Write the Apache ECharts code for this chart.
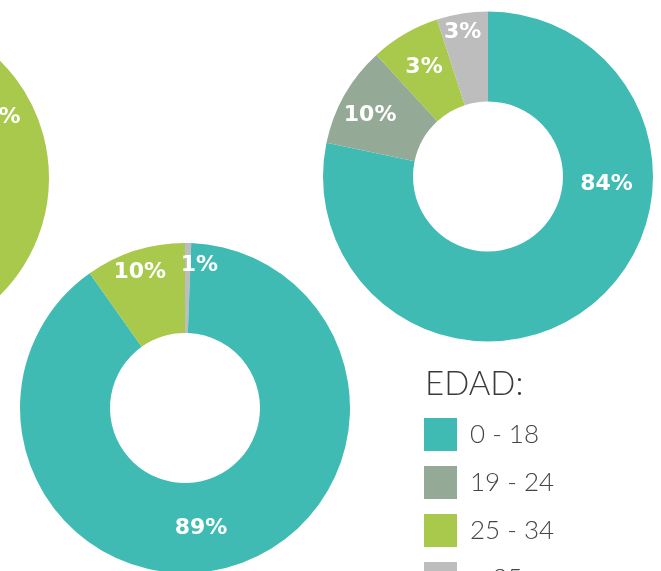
<!DOCTYPE html>
<html>
<head>
<meta charset="utf-8">
<script src="https://cdn.jsdelivr.net/npm/echarts@6/dist/echarts.min.js"></script>
<style>
  html, body { margin: 0; padding: 0; background: #fff; }
  #chart { width: 661px; height: 571px; }
</style>
</head>
<body>
<div id="chart"></div>
<script>
// legend
var ageGroups = ['0 - 18', '19 - 24', '25 - 34', '> 35'];
var groupColors = {
  '0 - 18': '#40BBB4',
  '19 - 24': '#94AA96',
  '25 - 34': '#A9C94C',
  '> 35': '#BCBDBC'
};

// donut on the left edge (mostly out of frame)
var leftGroups = ['25 - 34', '0 - 18', '19 - 24', '> 35'];
var leftValues = [42.5, 45.0, 9.0, 3.5];
var leftLabels = ['43%', '45%', '9%', '4%'];

// donut top right
var rightGroups = ['0 - 18', '19 - 24', '25 - 34', '> 35'];
var rightValues = [78.2, 9.9, 6.8, 5.0];
var rightLabels = ['84%', '10%', '3%', '3%'];

// donut bottom left
var bottomGroups = ['> 35', '0 - 18', '25 - 34'];
var bottomValues = [0.6, 89.6, 9.8];
var bottomLabels = ['1%', '89%', '10%'];

// label nudges (px) per slice
var leftNudge = [[2, -2], [0, 0], [0, 0], [0, 0]];
var rightNudge = [[41, -88], [-11, 0], [-2, -3], [-6, -23]];
var bottomNudge = [[12, -20], [-19, 2], [-8, -19]];

function makeDonut(groups, values, labels, nudge, center, startAngle) {
  return {
    type: 'pie',
    center: center,
    radius: [75, 165],
    startAngle: startAngle,
    clockwise: true,
    silent: true,
    animation: false,
    itemStyle: { borderWidth: 0 },
    label: {
      show: true,
      position: 'inside',
      color: '#fff',
      fontFamily: 'DejaVu Sans',
      fontWeight: 'bold',
      fontSize: 22,
      formatter: function (p) { return labels[p.dataIndex]; }
    },
    labelLine: { show: false },
    labelLayout: function (p) {
      return { dx: nudge[p.dataIndex][0], dy: nudge[p.dataIndex][1] };
    },
    data: groups.map(function (g, i) {
      return { name: g, value: values[i], itemStyle: { color: groupColors[g] } };
    })
  };
}

var myChart = echarts.init(document.getElementById('chart'));
var option = {
  backgroundColor: '#fff',
  animation: false,
  title: {
    text: 'EDAD:',
    left: 420,
    top: 363,
    textStyle: {
      fontFamily: 'Lato',
      fontWeight: 300,
      fontSize: 33,
      color: '#3a3a3a'
    }
  },
  legend: {
    data: ageGroups,
    orient: 'vertical',
    left: 424,
    top: 418,
    height: 300,
    padding: 0,
    itemWidth: 33,
    itemHeight: 33,
    itemGap: 15,
    icon: 'rect',
    selectedMode: false,
    textStyle: {
      fontFamily: 'Lato',
      fontWeight: 300,
      fontSize: 26,
      color: '#444',
      padding: [0, 0, 0, 8]
    }
  },
  series: [
    makeDonut(leftGroups, leftValues, leftLabels, leftNudge, [-116, 178], 105),
    makeDonut(rightGroups, rightValues, rightLabels, rightNudge, [488, 176.5], 90),
    makeDonut(bottomGroups, bottomValues, bottomLabels, bottomNudge, [185, 408], 90)
  ]
};

option && myChart.setOption(option);
</script>
</body>
</html>
